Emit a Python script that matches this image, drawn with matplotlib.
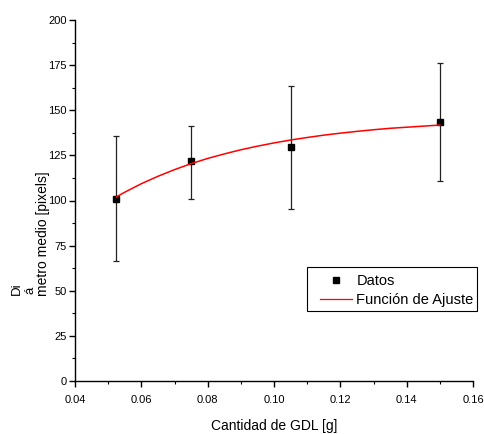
import matplotlib
matplotlib.use("Agg")
import matplotlib.pyplot as plt
from matplotlib import font_manager
from matplotlib.ticker import MultipleLocator
from matplotlib.patches import Rectangle

names = {f.name for f in font_manager.fontManager.ttflist}
fam = [n for n in ["Liberation Sans Narrow", "Liberation Sans", "DejaVu Sans"] if n in names]
plt.rcParams['font.family'] = fam

# Data
gdl = [0.0525, 0.075, 0.105, 0.150]
diam = [101.0, 121.7, 129.4, 143.5]
err_low = [66.5, 101.0, 95.3, 110.8]
err_high = [135.9, 141.5, 163.6, 176.0]

fit_x = [0.0525, 0.055, 0.06, 0.065, 0.07, 0.075, 0.08, 0.085, 0.09, 0.095, 0.10,
         0.105, 0.11, 0.115, 0.12, 0.125, 0.13, 0.135, 0.14, 0.145, 0.15]
fit_y = [102.0, 104.6, 109.3, 113.4, 117.1, 120.4, 123.3, 125.8, 128.1, 130.1, 131.9,
         133.5, 134.9, 136.2, 137.3, 138.3, 139.2, 140.0, 140.6, 141.2, 141.8]

x_ticks = [0.04, 0.06, 0.08, 0.10, 0.12, 0.14, 0.16]
y_ticks = [0, 25, 50, 75, 100, 125, 150, 175, 200]

fig = plt.figure(figsize=(4.85, 4.34), dpi=100)
ax = fig.add_axes([75/485, 53/434, 398/485, 361/434])

yerr = [[d - l for d, l in zip(diam, err_low)], [h - d for d, h in zip(diam, err_high)]]
ax.errorbar(gdl, diam, yerr=yerr, fmt='none', ecolor='#222222', elinewidth=0.9,
            capsize=2.5, capthick=0.9, zorder=2)
ax.plot(gdl, diam, 's', color='black', ms=5, label='Datos', zorder=3)
ax.plot(fit_x, fit_y, '-', color='red', lw=1.1, label='Función de Ajuste', zorder=4)

ax.set_xlim(0.04, 0.16)
ax.set_ylim(0, 200)
ax.set_xticks(x_ticks)
ax.set_xticklabels([f"{v:.2f}" for v in x_ticks])
ax.set_yticks(y_ticks)
ax.xaxis.set_minor_locator(MultipleLocator(0.01))
ax.yaxis.set_minor_locator(MultipleLocator(12.5))
for s in ['top', 'right']:
    ax.spines[s].set_visible(False)
for s in ['left', 'bottom']:
    ax.spines[s].set_linewidth(1.0)
ax.tick_params(which='major', direction='out', length=4, width=1.0, labelsize=8, colors='black')
ax.tick_params(which='minor', direction='out', length=2.5, width=0.8)
ax.tick_params(axis='x', pad=6)
ax.tick_params(axis='y', pad=2)

ax.set_xlabel('Cantidad de GDL [g]', fontsize=10, labelpad=10)

# y label pieces placed as in the original rendering
fig.text(17/485, 1 - 289/434, 'Di', rotation=90, fontsize=9.5, ha='center', va='center')
fig.text(30/485, 1 - 290/434, 'á', rotation=90, fontsize=9.5, ha='center', va='center')
fig.text(43/485, 1 - 296/434, 'metro medio [pixels]', rotation=90, fontsize=10,
         ha='center', va='bottom')

# legend frame drawn at reference location
frame = Rectangle((306.7/485, 1 - 311/434), 170/485, 44.3/434, transform=fig.transFigure,
                  facecolor='white', edgecolor='black', lw=0.8, clip_on=False, zorder=4.5)
ax.add_patch(frame)
leg = ax.legend(loc='upper left', bbox_to_anchor=(320/485, 1 - 274/434),
                bbox_transform=fig.transFigure, fontsize=10.5, frameon=False,
                borderpad=0, handlelength=2.2, handletextpad=0.3,
                labelspacing=0.35, borderaxespad=0)
leg.set_zorder(5)
for h in leg.get_lines():
    h.set_linewidth(0.9)

fig.savefig('out.png', dpi=100)
